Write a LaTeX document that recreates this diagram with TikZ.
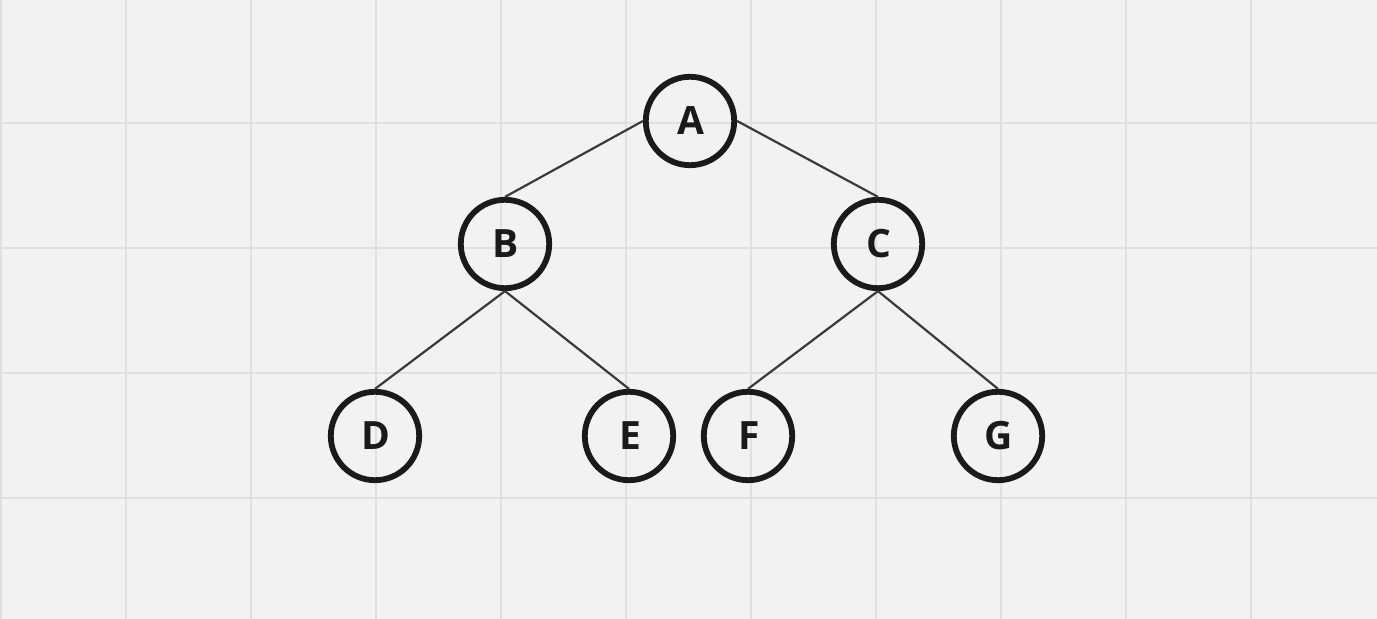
\documentclass[tikz,border=0pt]{standalone}
\usepackage{fontspec}
\setmainfont{Open Sans}
\definecolor{bg}{HTML}{F2F2F2}
\definecolor{gridc}{HTML}{E0E0E0}
\definecolor{nodec}{HTML}{1A1A1A}
\definecolor{edgec}{HTML}{3A3A3A}
\begin{document}
\begin{tikzpicture}[x=0.5pt,y=-0.5pt,
  tnode/.style={circle,draw=nodec,line width=2.9pt,minimum size=44.2pt,inner sep=0pt,
    font=\fontsize{19.5}{19.5}\selectfont\bfseries,text=nodec},
  tedge/.style={draw=edgec,line width=1.1pt}]
\fill[bg] (0,0) rectangle (1377,619);
\useasboundingbox (0,0) rectangle (1377,619);
\foreach \x in {1,126,251,376,501,626,751,876,1001,1126,1251}
  \draw[gridc,line width=0.75pt] (\x,0) -- (\x,619);
\foreach \y in {123,248,373,498}
  \draw[gridc,line width=0.75pt] (0,\y) -- (1377,\y);
\node[tnode] (A) at (690,121) {\hspace{1pt}A};
\node[tnode] (B) at (505,244) {\hspace{1pt}B};
\node[tnode] (C) at (878,244) {\hspace{1pt}C};
\node[tnode] (D) at (375,436) {\hspace{1pt}D};
\node[tnode] (E) at (629,436) {\hspace{1pt}E};
\node[tnode] (F) at (748,436) {\hspace{1pt}F};
\node[tnode] (G) at (998,436) {\hspace{1pt}G};
\draw[tedge] (A.west) -- (B.north);
\draw[tedge] (A.east) -- (C.north);
\draw[tedge] (B.south) -- (D.north);
\draw[tedge] (B.south) -- (E.north);
\draw[tedge] (C.south) -- (F.north);
\draw[tedge] (C.south) -- (G.north);
\end{tikzpicture}
\end{document}
